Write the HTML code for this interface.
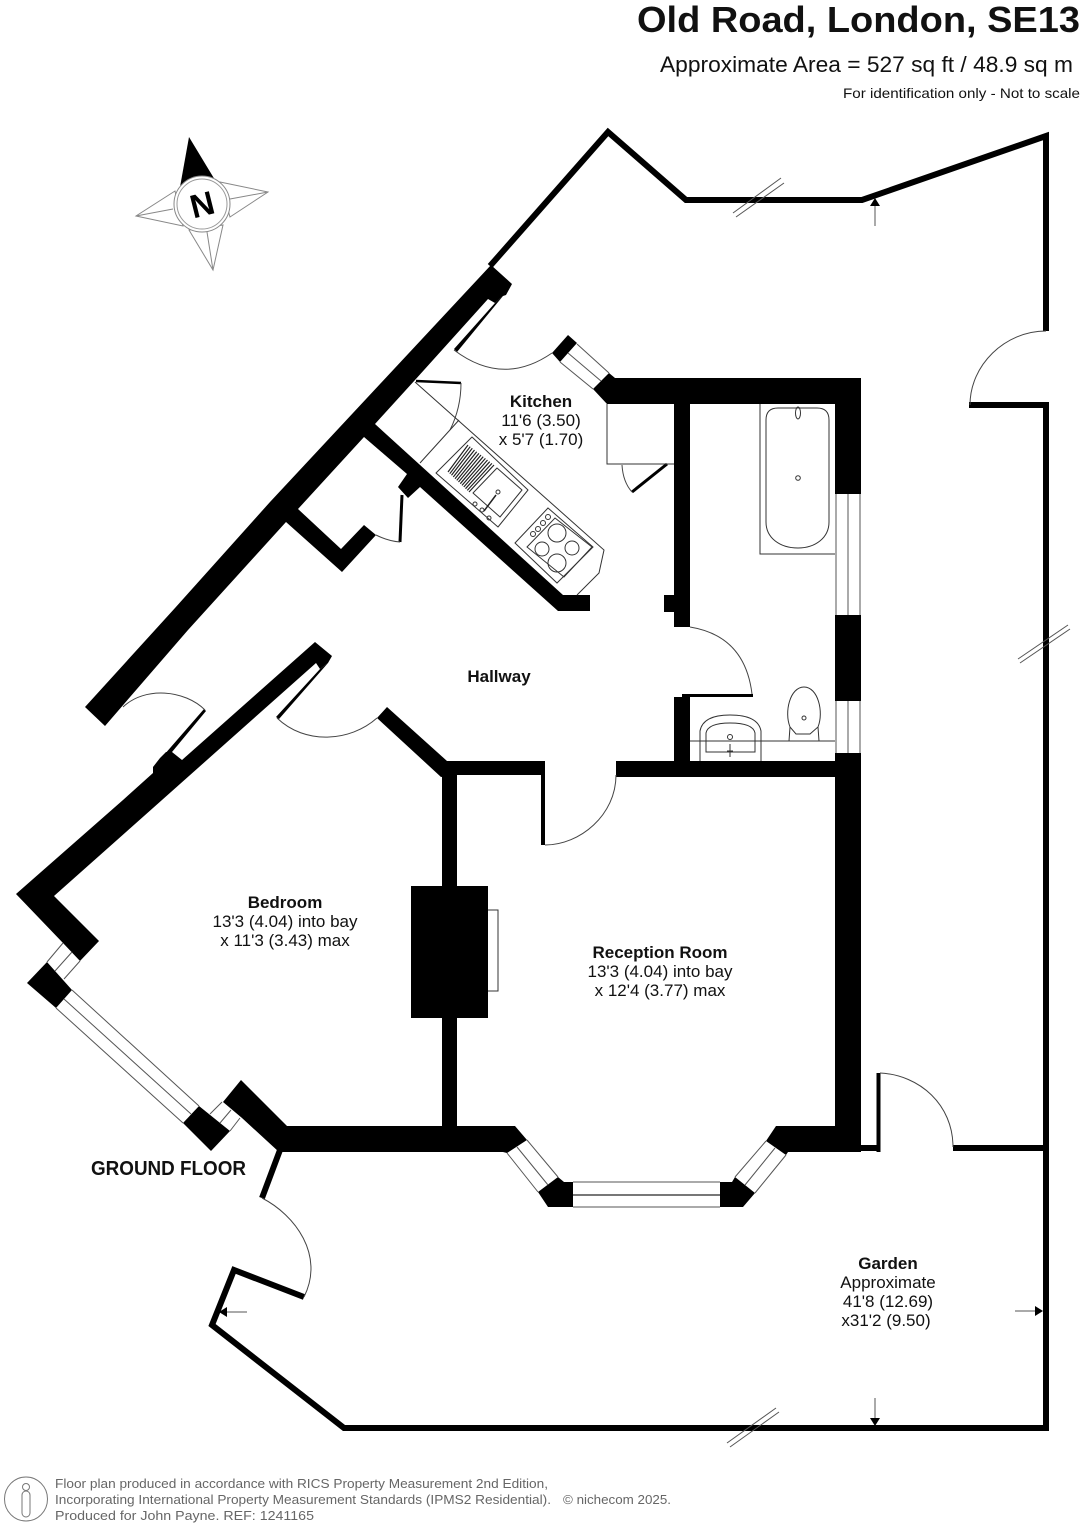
<!DOCTYPE html>
<html><head><meta charset="utf-8"><style>
html,body{margin:0;padding:0;background:#fff}
svg{display:block}
text{font-family:"Liberation Sans",sans-serif;fill:#111}
.b{font-weight:bold}
.r{font-size:17px;text-anchor:middle}
.f{font-size:13px;fill:#666}
</style></head><body>
<svg xmlns="http://www.w3.org/2000/svg" width="1082" height="1528" viewBox="0 0 1082 1528">
<rect width="1082" height="1528" fill="#fff"/>

<!-- header -->
<text x="637" y="32" class="b" font-size="36" textLength="443" lengthAdjust="spacingAndGlyphs">Old Road, London, SE13</text>
<text x="660" y="72" font-size="22" textLength="413" lengthAdjust="spacingAndGlyphs">Approximate Area = 527 sq ft / 48.9 sq m</text>
<text x="843" y="98" font-size="14" textLength="237" lengthAdjust="spacingAndGlyphs">For identification only - Not to scale</text>

<!-- compass -->
<g stroke="#888" stroke-width="1" fill="#fff">
<polygon points="220,182 268,192 230,217"/>
<line x1="230" y1="199" x2="268" y2="192"/>
<polygon points="175,191 136,216 183,226"/>
<line x1="173" y1="209" x2="136" y2="216"/>
<polygon points="189,230 213,270 223,225"/>
<line x1="207" y1="232" x2="213" y2="270"/>
</g>
<polygon points="189,137 180,187 215,180" fill="#000"/>
<circle cx="202" cy="204" r="28" fill="#fff" stroke="#888" stroke-width="1"/>
<circle cx="202" cy="204" r="25" fill="#fff" stroke="#999" stroke-width="1"/>
<text x="202" y="216" class="b" font-size="33" text-anchor="middle" transform="rotate(-14 202 204)" style="fill:#000">N</text>

<!-- garden boundary -->
<g fill="none" stroke="#000" stroke-width="6">
<polyline points="490,266 608,132 686,200 862,200 1046,136 1046,331"/>
<polyline points="969,405 1046,405 1046,1431"/>
<polyline points="1046,1428 344,1428 212,1325 234,1270 304,1297" stroke-linejoin="miter"/>
<line x1="280" y1="1150" x2="262" y2="1198"/>
<polyline points="861,1148 878,1148"/>
<line x1="953" y1="1148" x2="1046" y2="1148"/>
</g>
<line x1="878.5" y1="1073" x2="878.5" y2="1152" stroke="#000" stroke-width="4"/>

<!-- walls -->
<g fill="#000">
<!-- long diagonal + closet + kitchen wall -->
<polygon points="85,707 175,608 270,502 491,265 512,284 506,295 503,296 495,303 488,299 415,380 375,424 563,595 590,595 590,611 558,611 420,487 408,498 398,487 407,474 364,437 298,509 341,549 364,525 376,535 342,572 286,522 188,630 105,726"/>
<!-- kitchen door strip -->
<polygon points="495,303 503,296 457,352 454,349"/>
<!-- kitchen window block -->
<polygon points="568,335 577,343 560,362 552,353"/>
<!-- top wall + right wall -->
<polygon points="593,389 609,373 615,378 861,378 861,494 835,494 835,404 607,404"/>
<rect x="835" y="615" width="26" height="86"/>
<rect x="835" y="753" width="26" height="399"/>
<!-- kitchen/bath partition -->
<rect x="674" y="404" width="16" height="223"/>
<rect x="664" y="595" width="10" height="17"/>
<rect x="674" y="697" width="16" height="65"/>
<rect x="682" y="694" width="71" height="3"/>
<!-- reception top wall -->
<rect x="616" y="761" width="219" height="16"/>
<polygon points="377,718 387,707 447,761 541,761 541,775 457,775 441,777"/>
<rect x="541" y="761" width="4" height="84"/>
<!-- central wall and chimney -->
<rect x="442" y="762" width="15" height="370"/>
<rect x="411" y="886" width="77" height="132"/>
<!-- bedroom outer wall -->
<polygon points="315,642 332,656 328,663 320,669 316,663 162,800 54,896 99,941 80,961 63,943 16,894 123,800 153,773 153,767 160,758 166,752 172,752 182,760"/>
<polygon points="320,669 328,663 279,719 276,717"/>
<polygon points="164,755 172,752 206,711 204,709"/>
<!-- window blocks -->
<polygon points="47,962 72,990 56,1008 27,983"/>
<polygon points="199,1106 230,1131 211,1151 183,1123"/>
<polygon points="223,1102 241,1080 287,1126 515,1126 527,1140 507,1153 503,1152 279,1152 242,1118"/>
<polygon points="558,1177 564,1182 573,1182 573,1207 548,1207 538,1192"/>
<polygon points="720,1182 732,1182 735,1177 755,1193 743,1207 720,1207"/>
<polygon points="766,1141 776,1126 835,1126 835,1152 788,1152 786,1155"/>
</g>

<!-- windows -->
<g fill="none" stroke="#555" stroke-width="1">
<path d="M577,344L609,373M560,362L593,389M568,353L601,381"/>
<path d="M836,494V615M848,494V615M860,494V615M836,701V753M848,701V753M860,701V753"/>
<path d="M63,943L47,962M80,961L64,979M72,952L55,971"/>
<path d="M72,990L199,1106M56,1008L183,1123M64,999L191,1114"/>
<path d="M222,1102L210,1114M240,1118L230,1131M231,1110L220,1123"/>
<path d="M527,1140L558,1177M507,1153L538,1192M517,1147L548,1185"/>
<path d="M573,1182H720M573,1207H720"/>
<path d="M735,1177L766,1141M755,1193L786,1155M745,1185L775,1148"/>
<path d="M488,910H498V991H488" stroke="#333"/>
</g>
<line x1="573" y1="1195" x2="720" y2="1195" stroke="#777" stroke-width="2"/>

<!-- door panels -->
<g stroke="#000" fill="none">
<line x1="416" y1="381" x2="461" y2="383" stroke-width="2.5"/>
<line x1="667" y1="464" x2="632" y2="492" stroke-width="3"/>
<line x1="402" y1="495" x2="400" y2="542" stroke-width="3"/>
</g>
<!-- door arcs -->
<g fill="none" stroke="#444" stroke-width="1">
<path d="M454,350Q503,387 552,353"/>
<path d="M461,383Q461,408 450,430"/>
<path d="M622,465Q623,482 632,492"/>
<path d="M376,535Q388,541 400,542"/>
<path d="M690,627Q745,636 752,694"/>
<path d="M123,707C145,686 185,690 205,710"/>
<path d="M277,718C305,745 350,742 377,718"/>
<path d="M545,845C580,845 616,815 616,775"/>
<path d="M262,1198C295,1215 325,1255 304,1297"/>
<path d="M880,1073C920,1075 953,1105 953,1147"/>
<path d="M1046,331C1005,331 970,365 970,405"/>
</g>

<!-- kitchen fittings -->
<g fill="none" stroke="#333" stroke-width="1">
<path d="M607,404V464H674"/>
<path d="M415,382L604,550L599,573L577,595"/>
<path d="M459,420L420,463"/>
<path d="M472,437L528,490L498,527L436,473Z" stroke-linejoin="round"/>
<path d="M497,468L522,490L500,517L473,493Z" stroke-linejoin="round"/>
<path d="M548,508L593,547L557,583L515,543Z"/>
<path d="M555,518L592,547L564,577L527,547Z"/>
<circle cx="557" cy="533" r="9"/><circle cx="542" cy="549" r="7"/><circle cx="572" cy="548" r="7"/><circle cx="557" cy="563" r="9"/>
<circle cx="533" cy="534" r="2.5"/><circle cx="538" cy="529" r="2.5"/><circle cx="543" cy="523" r="2.5"/><circle cx="548" cy="517" r="2.5"/>
<circle cx="475" cy="504" r="2"/><circle cx="498" cy="492" r="2"/><circle cx="482" cy="510" r="2"/><circle cx="489" cy="518" r="2"/>
</g>
<path d="M448,472L468,445M449.8,473.7L470.2,446.7M451.5,475.3L472.3,448.3M453.3,477L474.5,450M455,478.7L476.7,451.7M456.8,480.4L478.9,453.4M458.5,482L481,455M460.3,483.7L483.2,456.7M462,485.4L485.4,458.4M463.8,487L487.5,460M465.5,488.7L489.7,461.7M467.3,490.4L491.9,463.4M469,492L494,465" stroke="#222" stroke-width="1.2" fill="none"/>
<line x1="484" y1="511" x2="496" y2="495" stroke="#222" stroke-width="1.5"/>

<!-- bathroom fittings -->
<g fill="none" stroke="#333" stroke-width="1">
<path d="M760,404V554H835"/>
<path d="M766,522V420Q766,408 778,408H817Q829,408 829,420V522C829,538 815,548 798,548C780,548 766,538 766,522Z"/>
<circle cx="798" cy="478" r="2.3"/>
<ellipse cx="798" cy="413" rx="2.5" ry="6"/>
<path d="M690,741H835"/>
<path d="M700,761V731Q703,715 730,715Q758,715 761,731V761"/>
<path d="M706,752V733Q708,723 730,723Q753,723 755,733V752Z"/>
<circle cx="730" cy="737" r="2.5"/>
<path d="M727,751H733M730,744V757"/>
<path d="M790,727C784,712 790,687 804,687C818,687 824,712 818,727L810,734H796Z"/>
<path d="M790,727L789,741M818,727L819,741"/>
<circle cx="804" cy="718" r="2"/>
</g>

<!-- arrows -->
<g stroke="#555" stroke-width="1" fill="none">
<line x1="875" y1="204" x2="875" y2="226"/>
<line x1="875" y1="1398" x2="875" y2="1420"/>
<line x1="225" y1="1312" x2="247" y2="1312"/>
<line x1="1015" y1="1311" x2="1037" y2="1311"/>
<path d="M733,213L781,178M736,217L784,183"/>
<path d="M1018,659L1068,625M1020,663L1070,629"/>
<path d="M727,1443L776,1408M730,1447L779,1412"/>
</g>
<g fill="#000">
<polygon points="875,198 870,206 880,206"/>
<polygon points="875,1426 870,1418 880,1418"/>
<polygon points="219,1312 227,1307 227,1317"/>
<polygon points="1043,1311 1035,1306 1035,1316"/>
</g>

<!-- labels -->
<text x="541" y="407" class="r b">Kitchen</text>
<text x="541" y="426" class="r">11'6 (3.50)</text>
<text x="541" y="445" class="r">x 5'7 (1.70)</text>
<text x="499" y="682" class="r b">Hallway</text>
<text x="285" y="908" class="r b">Bedroom</text>
<text x="285" y="927" class="r">13'3 (4.04) into bay</text>
<text x="285" y="946" class="r">x 11'3 (3.43) max</text>
<text x="660" y="958" class="r b">Reception Room</text>
<text x="660" y="977" class="r">13'3 (4.04) into bay</text>
<text x="660" y="996" class="r">x 12'4 (3.77) max</text>
<text x="888" y="1269" class="r b">Garden</text>
<text x="888" y="1288" class="r">Approximate</text>
<text x="888" y="1307" class="r">41'8 (12.69)</text>
<text x="886" y="1326" class="r">x31'2 (9.50)</text>
<text x="91" y="1175" class="b" font-size="20" textLength="155" lengthAdjust="spacingAndGlyphs">GROUND FLOOR</text>

<!-- footer -->
<g fill="none" stroke="#777" stroke-width="1">
<ellipse cx="26" cy="1499" rx="21.5" ry="22"/>
<circle cx="26" cy="1487" r="3.5"/>
<rect x="22" y="1491" width="8" height="26" rx="4"/>
</g>
<text x="55" y="1488" class="f" textLength="493" lengthAdjust="spacingAndGlyphs">Floor plan produced in accordance with RICS Property Measurement 2nd Edition,</text>
<text x="55" y="1504" class="f" textLength="496" lengthAdjust="spacingAndGlyphs">Incorporating International Property Measurement Standards (IPMS2 Residential).</text>
<text x="563" y="1504" class="f" textLength="108" lengthAdjust="spacingAndGlyphs">© nichecom 2025.</text>
<text x="55" y="1520" class="f" textLength="259" lengthAdjust="spacingAndGlyphs">Produced for John Payne.   REF:  1241165</text>
</svg>
</body></html>
